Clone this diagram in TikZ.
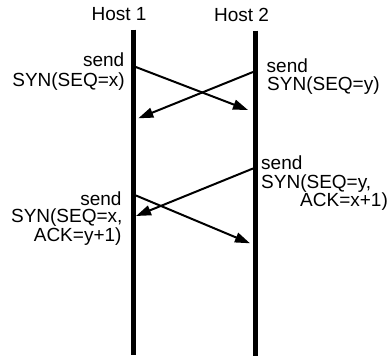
\documentclass[tikz,border=0pt]{standalone}
\usepackage{fontspec}
\setmainfont{Liberation Sans}
\usetikzlibrary{arrows.meta}
\begin{document}
\begin{tikzpicture}[x=1pt,y=-1pt,
  lbl/.style={inner sep=0pt,font=\fontsize{19}{22}\selectfont},
  hostbar/.style={line width=4.5pt},
  msg/.style={line width=2pt,-{Triangle[length=15pt,width=10pt]}}]
\useasboundingbox (0,0) rectangle (392,357);

% host time lines
\coordinate (h1top) at (133.5,29.5);
\coordinate (h1bot) at (133.5,354.5);
\coordinate (h2top) at (255.5,30.5);
\coordinate (h2bot) at (255.5,356);
\draw[hostbar] (h1top) -- (h1bot);
\draw[hostbar] (h2top) -- (h2bot);

\node[lbl,anchor=base] (host1) at (119,20.5) {Host 1};
\node[lbl,anchor=base] (host2) at (241.5,21) {Host 2};

% message end points
\coordinate (a1s) at (135,66.7);
\coordinate (a1e) at (248,110);
\coordinate (a2s) at (253,72);
\coordinate (a2e) at (138.3,118.3);
\coordinate (a3s) at (253,168.5);
\coordinate (a3e) at (136,216);
\coordinate (a4s) at (136,195.5);
\coordinate (a4e) at (250,243.3);

\draw[msg] (a1s) -- (a1e);
\draw[msg] (a2s) -- (a2e);
\draw[msg] (a3s) -- (a3e);
\draw[msg] (a4s) -- (a4e);

% labels, host 1 side
\node[lbl,anchor=base east] (t1a) at (124.5,66.7) {send};
\node[lbl,anchor=base east] (t1b) at (125,86.7) {SYN(SEQ=x)};
\node[lbl,anchor=base east] (t4a) at (121.7,205) {send};
\node[lbl,anchor=base east] (t4b) at (122.7,222.7) {SYN(SEQ=x,};
\node[lbl,anchor=base east] (t4c) at (121.7,241.7) {ACK=y+1)};

% labels, host 2 side
\node[lbl,anchor=base west] (t2a) at (266.5,72) {send};
\node[lbl,anchor=base west] (t2b) at (267,90.7) {SYN(SEQ=y)};
\node[lbl,anchor=base west] (t3a) at (261,169) {send};
\node[lbl,anchor=base west] (t3b) at (261,188) {SYN(SEQ=y,};
\node[lbl,anchor=base west] (t3c) at (300,206.7) {ACK=x+1)};
\end{tikzpicture}
\end{document}
